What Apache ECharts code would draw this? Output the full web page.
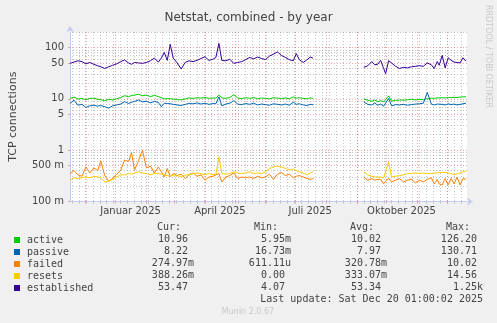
<!DOCTYPE html>
<html><head><meta charset="utf-8">
<script src="https://cdn.jsdelivr.net/npm/echarts@6/dist/echarts.min.js"></script>
<style>html,body{margin:0;padding:0;background:#f0f0f0}#c{width:497px;height:323px}</style>
</head><body><div id="c"></div>
<script>
// x values: days relative to 1 Jan 2025
const days = [-46,-42,-38,-34,-30,-26,-22,-18,-15,-11,-7,-3,1,5,9,13,16,19,23,27,31,35,39,43,46,49,52,55,58,62,66,70,74,78,82,86,90,94,98,101,104,107,111,115,119,123,127,131,135,139,143,147,151,155,159,163,167,171,175,179,182,185,189,193,196,199,
  225,
  250,254,258,261,264,267,270,272,275,278,282,286,290,294,298,302,306,310,314,318,321,324,326,329,332,335,338,341,344,347,350,353];

const active = [10.2,10.8,9.9,10.1,9.6,10.2,10.3,9.8,9.6,9.2,9.8,9.5,10.0,10.6,11.5,11.0,11.6,11.8,12.3,11.5,11.8,11.0,11.7,11.0,10.6,9.9,10.1,10.0,9.9,9.7,9.5,9.9,10.4,10.2,10.5,10.3,10.6,10.2,10.4,10.3,11.8,10.4,10.2,10.6,12.0,10.4,10.1,10.5,10.2,10.6,10.0,10.4,10.2,10.0,10.5,10.3,10.1,10.4,10.0,10.9,10.3,10.5,10.2,10.0,10.4,10.2,
  null,
  9.9,9.4,8.9,9.5,8.8,9.2,8.7,8.4,11.4,9.0,9.3,9.5,9.4,9.6,9.8,9.5,9.7,9.6,10.0,10.3,10.2,10.4,10.3,10.5,10.4,10.6,10.5,10.7,10.6,10.8,10.9,10.96];

const passive = [8.1,9.4,7.5,7.8,6.8,7.3,7.5,7.2,7.4,7.0,6.6,7.3,7.6,7.9,8.8,8.1,8.6,8.9,9.5,8.7,9.0,8.3,8.9,8.5,7.0,8.2,8.1,8.0,7.8,7.6,7.4,7.8,8.1,8.0,8.3,7.9,8.2,7.8,8.1,8.0,10.9,7.3,7.9,8.2,9.2,7.9,7.7,8.1,7.8,8.2,7.6,7.9,7.7,7.5,8.0,7.8,7.6,7.9,7.5,8.6,7.8,8.0,7.6,7.4,7.8,7.7,
  null,
  8.7,7.8,7.6,8.3,7.5,7.9,7.2,7.4,10.2,7.3,7.7,7.6,7.8,7.5,7.7,7.9,8.0,8.2,13.3,7.9,7.6,7.9,7.5,7.8,7.6,8.0,7.7,7.9,7.6,7.8,8.0,8.22];

const failed = [0.35,0.40,0.33,0.31,0.47,0.36,0.45,0.40,0.62,0.32,0.25,0.28,0.34,0.40,0.64,0.60,0.89,0.41,0.62,1.0,0.45,0.49,0.36,0.47,0.38,0.30,0.44,0.30,0.35,0.32,0.34,0.28,0.33,0.36,0.31,0.33,0.26,0.30,0.31,0.33,0.35,0.24,0.30,0.32,0.36,0.28,0.30,0.29,0.30,0.28,0.31,0.29,0.30,0.34,0.27,0.34,0.37,0.32,0.34,0.29,0.31,0.32,0.30,0.28,0.27,0.28,
  null,
  0.30,0.26,0.28,0.26,0.27,0.27,0.22,0.25,0.28,0.24,0.26,0.28,0.24,0.26,0.27,0.23,0.26,0.24,0.27,0.29,0.22,0.27,0.22,0.21,0.28,0.21,0.28,0.22,0.30,0.21,0.28,0.27];

const resets = [0.26,0.29,0.28,0.29,0.30,0.29,0.31,0.30,0.29,0.24,0.25,0.27,0.30,0.33,0.33,0.35,0.34,0.36,0.38,0.36,0.35,0.33,0.35,0.35,0.34,0.33,0.32,0.31,0.33,0.32,0.30,0.33,0.33,0.35,0.36,0.35,0.33,0.35,0.33,0.34,0.74,0.35,0.34,0.35,0.38,0.36,0.35,0.36,0.38,0.35,0.36,0.35,0.38,0.44,0.47,0.49,0.47,0.44,0.41,0.43,0.40,0.38,0.36,0.33,0.36,0.38,
  null,
  0.38,0.33,0.31,0.30,0.30,0.30,0.29,0.29,0.59,0.30,0.31,0.32,0.33,0.35,0.35,0.36,0.35,0.36,0.35,0.35,0.36,0.36,0.37,0.37,0.37,0.36,0.35,0.33,0.35,0.36,0.38,0.39];

const established = [49,52,55,53,48,51,47,44,42,39,42,45,48,53,57,50,47,51,50,49,51,55,62,52,62,80,56,115,62,50,38,51,55,53,56,61,66,56,59,64,120,56,55,59,49,51,53,58,64,60,65,61,58,68,74,82,70,64,58,55,76,58,51,58,65,62,
  null,
  41,44,53,46,47,56,39,31,55,50,43,39,41,40,42,43,44,43,50,46,39,53,45,70,40,63,56,52,51,50,63,54];

const seriesNames = ['active','passive','failed','resets','established'];
const seriesValues = [active, passive, failed, resets, established];
const seriesColors = ['#00cc00','#0066b3','#ff8000','#ffcc00','#330099'];

// axis ticks
const monthStarts = [-31,0,31,59,90,120,151,181,212,243,273,304,334];
const weekStarts = [];
for (let d = -44; d <= 354; d += 7) weekStarts.push(d);
const xLabelDays = [15,105,196,288];
const xLabelTexts = ['Januar 2025','April 2025','Juli 2025','Oktober 2025'];
const yMajor = [0.1,0.5,1,5,10,50,100];
const yLabelTexts = ['100 m','500 m','1','5','10','50','100'];
const yMinor = [0.2,0.3,0.4,0.6,0.7,0.8,0.9,2,3,4,6,7,8,9,20,30,40,60,70,80,90,200];

// legend table
const colHeaders = ['Cur:','Min:','Avg:','Max:'];
const curVals = ['10.96 ','8.22 ','274.97m','388.26m','53.47 '];
const minVals = ['5.95m','16.73m','611.11u','0.00 ','4.07 '];
const avgVals = ['10.02 ','7.97 ','320.78m','333.07m','53.34 '];
const maxVals = ['126.20 ','130.71 ','10.02 ','14.56 ','1.25k'];
const lastUpdate = 'Last update: Sat Dec 20 01:00:02 2025';

const chart = echarts.init(document.getElementById('c'), null, {renderer:'canvas'});
const MONO = '"DejaVu Sans Mono", monospace';
const SANS = '"DejaVu Sans", sans-serif';
const txt = '#444';
const majorColor = 'rgba(230,90,90,0.55)';
const minorColor = 'rgba(150,150,150,0.55)';
const axisColor = '#c5cbf2';

const colRight = [194, 291, 387, 483];
const headRight = [181, 278, 374, 470];
const rowY = [239.5, 251.5, 263.5, 275.5, 287.5];
const graphics = [];
colHeaders.forEach((h,i)=>graphics.push({type:'text', x:headRight[i], y:227.5,
  style:{text:h, font:'10px '+MONO, fill:txt, textAlign:'right', textVerticalAlign:'middle'}}));
[curVals,minVals,avgVals,maxVals].forEach((col,ci)=>col.forEach((v,ri)=>graphics.push({type:'text',
  x:colRight[ci], y:rowY[ri], style:{text:v, font:'10px '+MONO, fill:txt, textAlign:'right', textVerticalAlign:'middle'}})));
graphics.push({type:'text', x:483, y:299.5, style:{text:lastUpdate, font:'10px '+MONO, fill:txt, textAlign:'right', textVerticalAlign:'middle'}});
graphics.push({type:'text', x:248, y:312, style:{text:'Munin 2.0.67', font:'8px '+SANS, fill:'#c8c8c8', textAlign:'center', textVerticalAlign:'middle'}});
graphics.push({type:'text', x:488, y:5, rotation:-Math.PI/2, style:{text:'RRDTOOL / TOBI OETIKER', font:'8px '+SANS, fill:'#c8c8c8', textAlign:'left', textVerticalAlign:'middle'}});

const series = seriesNames.map((n,i)=>({
  name:n, type:'line', xAxisIndex:0, yAxisIndex:0, showSymbol:false, symbol:'none',
  connectNulls:false, animation:false,
  lineStyle:{width:1, color:seriesColors[i]}, itemStyle:{color:seriesColors[i]},
  data: days.map((d,k)=>[d, seriesValues[i][k] === null ? '-' : seriesValues[i][k]]),
  z: 10+i
}));

chart.setOption({
  backgroundColor:'#f0f0f0',
  animation:false,
  title:{text:'Netstat, combined - by year', left:'center', top:12, padding:0,
    textStyle:{fontFamily:SANS, fontSize:12, fontWeight:'normal', color:txt}},
  legend:{orient:'vertical', left:14, top:234, padding:0, itemGap:0, itemWidth:6, itemHeight:6,
    icon:'rect', selectedMode:false, data:seriesNames,
    textStyle:{fontFamily:MONO, fontSize:10, color:txt, lineHeight:12, padding:[0,0,0,2]}},
  grid:{left:67, right:30, top:32, bottom:121.5, show:true, backgroundColor:'#ffffff', borderWidth:0},
  xAxis:[
    {type:'value', min:-46, max:354, position:'bottom',
     axisLine:{show:true, onZero:false, lineStyle:{color:axisColor, width:1}, symbol:['none','arrow'], symbolSize:[6,6], symbolOffset:[0,6]},
     axisTick:{show:true, length:2, inside:false, customValues:monthStarts, lineStyle:{color:majorColor}},
     axisLabel:{show:true, customValues:xLabelDays, margin:5, fontFamily:SANS, fontSize:10, color:txt,
       formatter:(v)=>{const i=xLabelDays.indexOf(v); return i>=0?xLabelTexts[i]:'';}},
     splitLine:{show:true, lineStyle:{color:majorColor, type:[1,2], width:1}}, z:2},
    {type:'value', min:-46, max:354, position:'bottom',
     axisLine:{show:false, onZero:false}, axisLabel:{show:false},
     axisTick:{show:true, length:2, customValues:weekStarts, lineStyle:{color:minorColor}},
     splitLine:{show:true, lineStyle:{color:minorColor, type:[1,2], width:1}}, z:1}
  ],
  yAxis:[
    {type:'log', min:0.1, max:200, logBase:10, position:'left',
     name:'TCP connections', nameLocation:'middle', nameGap:51,
     nameTextStyle:{fontFamily:SANS, fontSize:11, color:txt},
     axisLine:{show:true, onZero:false, lineStyle:{color:axisColor, width:1}, symbol:['none','arrow'], symbolSize:[6,6], symbolOffset:[0,6]},
     axisTick:{show:true, length:2, customValues:yMajor, lineStyle:{color:majorColor}},
     axisLabel:{show:true, customValues:yMajor, margin:6, fontFamily:SANS, fontSize:10, color:txt,
       formatter:(v)=>{let best=0; yMajor.forEach((m,i)=>{if(Math.abs(Math.log10(m)-Math.log10(v))<Math.abs(Math.log10(yMajor[best])-Math.log10(v))) best=i;}); return yLabelTexts[best];}},
     splitLine:{show:true, lineStyle:{color:majorColor, type:[1,2], width:1}}, z:2},
    {type:'log', min:0.1, max:200, logBase:10, position:'left',
     axisLine:{show:false, onZero:false}, axisLabel:{show:false},
     axisTick:{show:false, customValues:yMinor},
     splitLine:{show:true, lineStyle:{color:minorColor, type:[1,2], width:1}}, z:1}
  ],
  graphic:graphics,
  series:series
});
</script>
</body></html>
